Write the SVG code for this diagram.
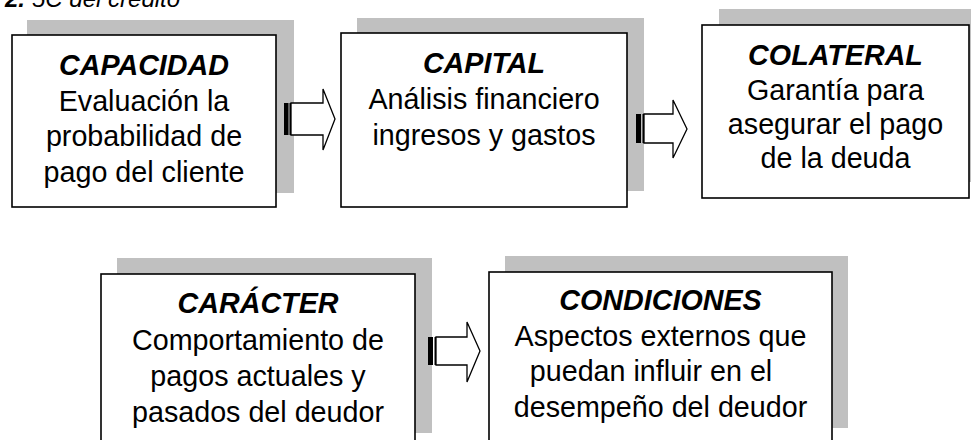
<svg xmlns="http://www.w3.org/2000/svg" width="971" height="440" viewBox="0 0 971 440">
<defs>
<style>
.shadow{fill:#c0c0c0;stroke:none}
.box{fill:#ffffff;stroke:#000000;stroke-width:1.6}
.t{font-family:"Liberation Sans",Arial,sans-serif;font-size:28.7px;fill:#000000;text-anchor:middle}
.h{font-weight:bold;font-style:italic}
.cap{font-family:"Liberation Sans",Arial,sans-serif;font-size:24px;font-style:italic;fill:#000000}
.arr{fill:#ffffff;stroke:#000000;stroke-width:1.3;stroke-linejoin:miter}
.bar{fill:#000000}
</style>
</defs>
<rect width="971" height="440" fill="#ffffff"/>
<g id="caption">
<text class="cap" x="25" y="7" text-anchor="end" font-weight="bold">Figura 2.</text>
<text class="cap" x="32" y="7">5C del crédito</text>
</g>
<g id="capacidad">
<rect class="shadow" x="27" y="20" width="267" height="173"/>
<rect class="box" x="12" y="35" width="264" height="172"/>
<text class="t h" x="144" y="75">CAPACIDAD</text>
<text class="t" x="144" y="110.7">Evaluación la</text>
<text class="t" x="144" y="146.3">probabilidad de</text>
<text class="t" x="144" y="182">pago del cliente</text>
</g>
<g id="capital">
<rect class="shadow" x="357" y="18" width="287" height="173"/>
<rect class="box" x="341" y="33" width="286" height="174"/>
<text class="t h" x="484" y="73">CAPITAL</text>
<text class="t" x="484" y="109">Análisis financiero</text>
<text class="t" x="484" y="145">ingresos y gastos</text>
</g>
<g id="colateral">
<rect class="shadow" x="719" y="9" width="260" height="173"/>
<rect class="box" x="702" y="25" width="267" height="173"/>
<text class="t h" x="835.5" y="65">COLATERAL</text>
<text class="t" x="835.5" y="99.5">Garantía para</text>
<text class="t" x="835.5" y="134">asegurar el pago</text>
<text class="t" x="835.5" y="168">de la deuda</text>
</g>
<g id="caracter">
<rect class="shadow" x="117" y="258" width="315" height="175"/>
<rect class="box" x="101" y="274" width="314" height="180"/>
<text class="t h" x="258" y="313">CARÁCTER</text>
<text class="t" x="258" y="349.5">Comportamiento de</text>
<text class="t" x="258" y="386">pagos actuales y</text>
<text class="t" x="258" y="422">pasados del deudor</text>
</g>
<g id="condiciones">
<rect class="shadow" x="505" y="256" width="343" height="172"/>
<rect class="box" x="489" y="272" width="343" height="182"/>
<text class="t h" x="660.5" y="310">CONDICIONES</text>
<text class="t" x="660.5" y="345.5">Aspectos externos que</text>
<text class="t" x="651" y="381">puedan influir en el</text>
<text class="t" x="660.5" y="416.5">desempeño del deudor</text>
</g>
<g id="connectors">
<g>
<rect class="bar" x="284" y="103" width="4.5" height="32"/>
<rect class="bar" x="289.5" y="103" width="1.5" height="32"/>
<polygon class="arr" points="291,103 323,103 323,89 335,119 323,150 323,135 291,135"/>
</g>
<g>
<rect class="bar" x="636" y="114" width="5" height="29"/>
<rect class="bar" x="642.5" y="114" width="1.5" height="29"/>
<polygon class="arr" points="644,114 673,114 673,100 687,129 673,158 673,143 644,143"/>
</g>
<g>
<rect class="bar" x="428" y="337" width="5" height="28"/>
<rect class="bar" x="434.5" y="337" width="1.5" height="28"/>
<polygon class="arr" points="436,337 467,337 467,322 480,351 467,382 467,365 436,365"/>
</g>
</g>
</svg>
